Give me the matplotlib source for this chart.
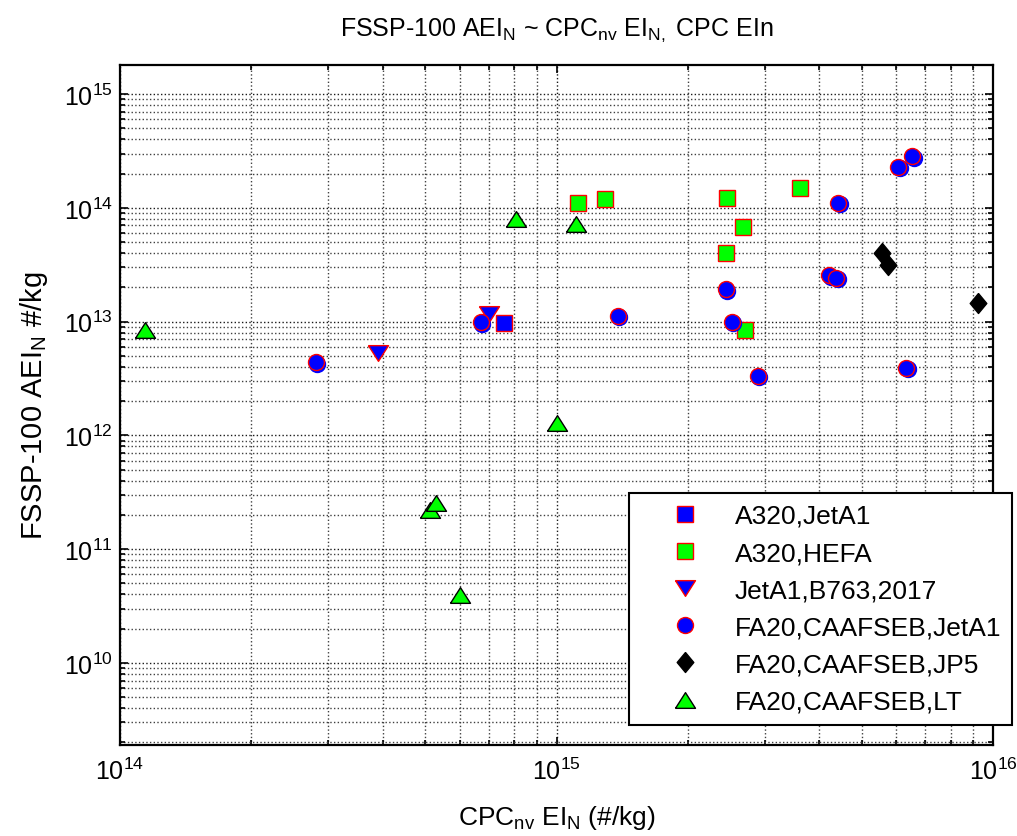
import numpy as np
import matplotlib
matplotlib.use('Agg')
import matplotlib.pyplot as plt
from matplotlib import ticker, transforms

plt.rcParams['font.family'] = ['Liberation Sans', 'DejaVu Sans']
plt.rcParams['mathtext.fontset'] = 'custom'
plt.rcParams['mathtext.rm'] = 'Liberation Sans'
plt.rcParams['mathtext.it'] = 'Liberation Sans:italic'
plt.rcParams['mathtext.default'] = 'regular'

# CPC non-volatile EI_N (x) vs FSSP-100 AEI_N (y), #/kg
a320_jeta1_x = [7.6e14]
a320_jeta1_y = [9.7e12]

a320_hefa_x = [1.12e15, 1.29e15, 2.46e15, 2.44e15, 2.68e15, 3.61e15, 2.71e15]
a320_hefa_y = [1.11e14, 1.20e14, 1.21e14, 4.0e13, 6.8e13, 1.48e14, 8.5e12]

b763_x = [3.9e14, 7.0e14]
b763_y = [5.3e12, 1.16e13]

fa20_jeta1_x = [2.81e14, 6.7e14, 1.38e15, 2.44e15, 2.52e15, 2.89e15,
                4.22e15, 4.37e15, 4.42e15, 6.07e15, 6.53e15, 6.32e15]
fa20_jeta1_y = [4.4e12, 9.9e12, 1.13e13, 1.92e13, 1.0e13, 3.36e12,
                2.55e13, 2.43e13, 1.11e14, 2.3e14, 2.85e14, 3.93e12]

fa20_jp5_x = [5.56e15, 5.74e15, 9.25e15]
fa20_jp5_y = [4.04e13, 3.17e13, 1.46e13]

fa20_lt_x = [1.14e14, 5.13e14, 5.30e14, 6.01e14, 8.09e14, 1.0e15, 1.11e15]
fa20_lt_y = [8.4e12, 2.21e11, 2.53e11, 3.97e10, 7.94e13, 1.29e12, 7.28e13]

# wide, flat triangles and a tall diamond
tri_up = [(-1, -0.785), (1, -0.785), (0, 0.785), (-1, -0.785)]
tri_down = [(-1, 0.785), (1, 0.785), (0, -0.785), (-1, 0.785)]
diamond = [(0, 1), (0.83, 0), (0, -1), (-0.83, 0), (0, 1)]

fig = plt.figure(figsize=(10.17, 8.37), dpi=100)
ax = fig.add_axes([0.118, 0.1087, 0.8584, 0.8124])
ax.set_xscale('log')
ax.set_yscale('log')

ax.plot(a320_jeta1_x, a320_jeta1_y, ls='none', marker='s', ms=11.5,
        mfc='blue', mec='red', mew=1, label='A320,JetA1')
ax.plot(a320_hefa_x, a320_hefa_y, ls='none', marker='s', ms=11.5,
        mfc='#00ff00', mec='red', mew=1, label='A320,HEFA')
ax.plot(b763_x, b763_y, ls='none', marker=tri_down, ms=14.4,
        mfc='blue', mec='red', mew=1, label='JetA1,B763,2017')
# blue halo slightly offset behind the circles
shadow = transforms.offset_copy(ax.transData, fig=fig, x=1.5, y=-1.5, units='dots')
ax.plot(fa20_jeta1_x, fa20_jeta1_y, ls='none', marker='o', ms=11.5,
        mfc='blue', mec='blue', mew=1, transform=shadow)
ax.plot(fa20_jeta1_x, fa20_jeta1_y, ls='none', marker='o', ms=11.5,
        mfc='blue', mec='red', mew=1, label='FA20,CAAFSEB,JetA1')
ax.plot(fa20_jp5_x, fa20_jp5_y, ls='none', marker=diamond, ms=14.4,
        mfc='black', mec='black', mew=1, label='FA20,CAAFSEB,JP5')
ax.plot(fa20_lt_x, fa20_lt_y, ls='none', marker=tri_up, ms=14.4,
        mfc='#00ff00', mec='black', mew=1, label='FA20,CAAFSEB,LT')

ax.set_xlim(1e14, 1e16)
ax.set_ylim(1.9e9, 1.8e15)

ax.xaxis.set_major_locator(ticker.LogLocator(base=10, numticks=20))
ax.yaxis.set_major_locator(ticker.LogLocator(base=10, numticks=20))
ax.xaxis.set_minor_locator(ticker.LogLocator(base=10, subs=np.arange(2, 10), numticks=100))
ax.yaxis.set_minor_locator(ticker.LogLocator(base=10, subs=np.arange(2, 10), numticks=100))
ax.xaxis.set_minor_formatter(ticker.NullFormatter())
ax.yaxis.set_minor_formatter(ticker.NullFormatter())

ax.grid(True, which='major', ls=':', color='0.1', lw=1.0)
ax.grid(True, which='minor', ls=':', color='0.25', lw=1.0)
ax.set_axisbelow(True)

ax.tick_params(which='both', direction='in', top=True, right=True, width=1.2)
ax.tick_params(which='major', length=6, labelsize=18)
ax.tick_params(which='minor', length=3.5)
ax.tick_params(axis='x', which='major', pad=9)
ax.tick_params(axis='y', which='major', pad=5)
for sp in ax.spines.values():
    sp.set_linewidth(1.6)

ax.set_xlabel(r'CPC$_{nv}$ EI$_N$ (#/kg)', fontsize=19, labelpad=14)
ax.set_ylabel(r'FSSP-100 AEI$_N$ #/kg', fontsize=21, labelpad=10)
ax.set_title(r'FSSP-100 AEI$_N$ ~ CPC$_{nv}$ EI$_{N,}$ CPC EIn', fontsize=18, pad=22)

leg = ax.legend(loc='upper left', bbox_to_anchor=(629 / 1017, 1 - 494 / 837),
                bbox_transform=fig.transFigure, borderaxespad=0, fontsize=19,
                fancybox=False, framealpha=1, edgecolor='black', numpoints=1,
                borderpad=0.41, labelspacing=0.5, handlelength=3.43, handletextpad=0.18)
leg.get_frame().set_linewidth(1.5)

fig.savefig('out.png', dpi=100)
